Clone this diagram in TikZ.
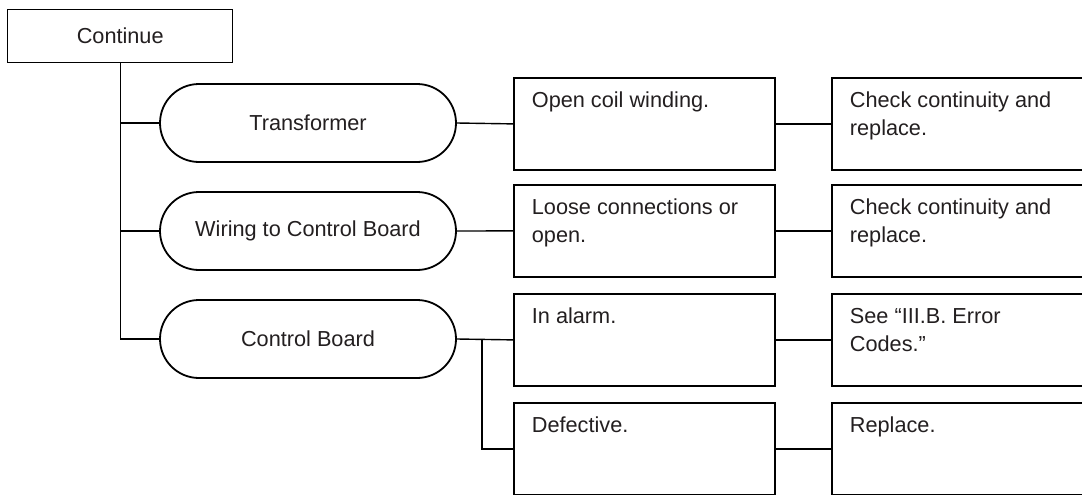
\documentclass[tikz,border=0pt]{standalone}
\usepackage{fontspec}
\setmainfont{Liberation Sans}
\usetikzlibrary{shapes.misc}
\definecolor{txt}{HTML}{231F20}
\newcommand{\celltext}[1]{\parbox[t][92pt][t]{261pt}{\leftskip=18pt\rightskip=0pt plus 1fil\parfillskip=0pt plus 1fil\baselineskip=27.5pt\vspace*{14pt}\rule{0pt}{16pt}#1}}
\begin{document}
\begin{tikzpicture}[x=1pt,y=-1pt,
  every node/.style={font=\fontsize{21.7}{27.5}\selectfont, text=txt},
  topbox/.style={draw, line width=1.4pt, minimum width=225pt, minimum height=53pt, inner sep=0pt, anchor=north west},
  pill/.style={draw, rounded rectangle, line width=1.8pt, minimum width=296pt, minimum height=78pt, inner sep=0pt},
  cell/.style={draw, line width=1.8pt, inner sep=0pt, anchor=north west},
  link/.style={line width=1.4pt}]
\useasboundingbox (0,0) rectangle (1082,495);
\fill[white] (0,0) rectangle (1082,495);
\node[topbox] (cont) at (7,9) {Continue};
\node[pill] (tf) at (308,123) {Transformer};
\node[pill] (wr) at (308,231) {Wiring to Control Board};
\node[pill] (cb) at (308,339) {Control Board};
\node[cell] (m1) at (513,77) {\celltext{Open coil winding.}};
\node[cell] (m2) at (513,184) {\celltext{Loose connections or\\open.}};
\node[cell] (m3) at (513,293) {\celltext{In alarm.}};
\node[cell] (m4) at (513,402) {\celltext{Defective.}};
\node[cell] (r1) at (831,77) {\celltext{Check continuity and\\replace.}};
\node[cell] (r2) at (831,184) {\celltext{Check continuity and\\replace.}};
\node[cell] (r3) at (831,293) {\celltext{See “III.B. Error\\Codes.”}};
\node[cell] (r4) at (831,402) {\celltext{Replace.}};
\coordinate (br) at (482,339);
\draw[link] (cont.south) |- (cb.west);
\draw[link] (tf.west) -- (tf.west -| cont.south);
\draw[link] (wr.west) -- (wr.west -| cont.south);
\draw[link] (tf.east) -- (m1.west);
\draw[link] (wr.east) -- (m2.west);
\draw[link] (cb.east) -- (m3.west);
\draw[link] (br) |- (m4.west);
\draw[link] (m1.east) -- (r1.west);
\draw[link] (m2.east) -- (r2.west);
\draw[link] (m3.east) -- (r3.west);
\draw[link] (m4.east) -- (r4.west);
\end{tikzpicture}
\end{document}
